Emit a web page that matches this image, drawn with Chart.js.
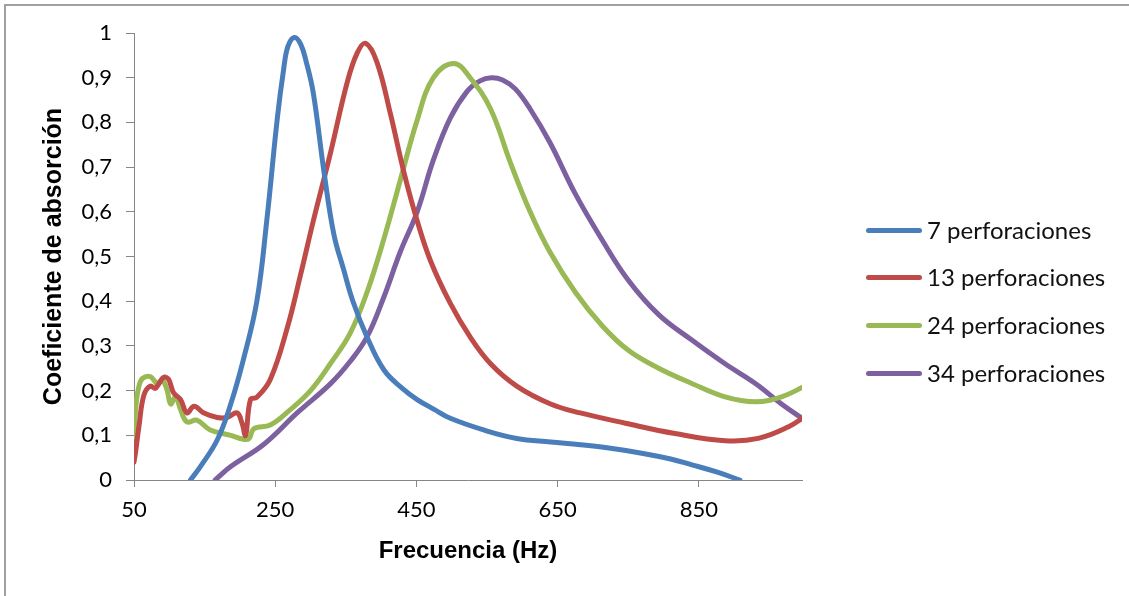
<!DOCTYPE html>
<html>
<head>
<meta charset="utf-8">
<script src="https://cdn.jsdelivr.net/npm/chart.js@4.4.1/dist/chart.umd.min.js"></script>
<style>
  html, body { margin: 0; padding: 0; background: #fff; }
  #wrap { position: relative; width: 1129px; height: 596px; overflow: hidden; }
  #frame { position: absolute; left: 4px; top: 4px; width: 1200px; height: 700px;
    border-left: 2px solid #a0a0a0; border-top: 2px solid #a0a0a0; }
  #cnv { position: absolute; left: 0; top: 0; }
  #legend { position: absolute; left: 866px; top: 0; font-family: Lato, sans-serif; font-size: 24px; color: #111; }
  #legend .item { position: absolute; left: 0; white-space: nowrap; height: 30px; line-height: 30px; }
  #legend .swatch { position: absolute; left: 0; top: 13px; width: 56px; height: 5px; border-radius: 3px; }
  #legend .lbl { position: absolute; left: 61px; top: 0; }
</style>
</head>
<body>
<div id="wrap">
  <div id="frame"></div>
  <canvas id="cnv"></canvas>
  <div id="legend"></div>
</div>
<script>
const seriesNames = ['7 perforaciones', '13 perforaciones', '24 perforaciones', '34 perforaciones']
const seriesColors = ['#4a7ebb', '#be4b48', '#98b954', '#7d60a0']

// frequency (Hz) / absorption pairs
const freq7 = [130, 144, 168, 187, 205, 224, 238, 253, 262, 268, 277, 286, 294, 304, 319, 333, 347, 360, 380, 404, 430, 451, 475, 498, 545, 592, 640, 682, 720, 769, 810, 840, 875, 908]
const alpha7 = [0, 0.03, 0.09, 0.17, 0.27, 0.40, 0.58, 0.81, 0.92, 0.97, 0.99, 0.975, 0.935, 0.865, 0.69, 0.55, 0.47, 0.40, 0.32, 0.246, 0.205, 0.18, 0.158, 0.138, 0.112, 0.093, 0.085, 0.079, 0.072, 0.06, 0.047, 0.034, 0.018, 0]

const freq13 = [50, 52, 57, 64, 73, 80, 85, 92, 99, 106, 116, 125, 135, 149, 168, 182, 196, 203, 208, 215, 224, 243, 267, 286, 304, 328, 352, 366, 378, 394, 413, 432, 451, 470, 498, 526, 555, 592, 640, 682, 746, 816, 887, 934, 977, 1000]
const alpha13 = [0.04, 0.06, 0.12, 0.19, 0.21, 0.205, 0.215, 0.23, 0.225, 0.195, 0.18, 0.15, 0.165, 0.15, 0.14, 0.14, 0.15, 0.127, 0.10, 0.18, 0.185, 0.225, 0.34, 0.46, 0.58, 0.73, 0.89, 0.955, 0.977, 0.935, 0.82, 0.69, 0.58, 0.49, 0.395, 0.32, 0.26, 0.21, 0.17, 0.15, 0.127, 0.104, 0.088, 0.093, 0.119, 0.142]

const freq24 = [50, 53, 57, 62, 73, 83, 90, 97, 102, 109, 116, 125, 139, 158, 187, 205, 213, 220, 243, 271, 300, 328, 356, 380, 404, 427, 451, 474, 503, 526, 555, 583, 611, 639, 675, 713, 750, 793, 840, 887, 930, 967, 1000]
const alpha24 = [0.097, 0.17, 0.21, 0.227, 0.231, 0.216, 0.224, 0.20, 0.17, 0.186, 0.157, 0.13, 0.134, 0.112, 0.10, 0.091, 0.093, 0.115, 0.123, 0.157, 0.20, 0.26, 0.328, 0.42, 0.54, 0.67, 0.805, 0.90, 0.932, 0.90, 0.83, 0.71, 0.60, 0.51, 0.42, 0.345, 0.29, 0.25, 0.216, 0.186, 0.175, 0.186, 0.21]

const freq34 = [165, 187, 234, 281, 328, 356, 380, 404, 427, 451, 474, 498, 522, 540, 556, 572, 590, 611, 639, 675, 713, 750, 793, 840, 887, 930, 967, 996]
const alpha34 = [0, 0.03, 0.08, 0.15, 0.215, 0.265, 0.32, 0.41, 0.51, 0.60, 0.716, 0.81, 0.87, 0.893, 0.90, 0.895, 0.875, 0.83, 0.755, 0.64, 0.537, 0.447, 0.37, 0.313, 0.26, 0.216, 0.17, 0.138]

const xTicks = [50, 250, 450, 650, 850]
const yTicks = [0, 0.1, 0.2, 0.3, 0.4, 0.5, 0.6, 0.7, 0.8, 0.9, 1]

const freqs = [freq7, freq13, freq24, freq34]
const alphas = [alpha7, alpha13, alpha24, alpha34]

const axisColor = '#868686'
const tickFont = { family: 'Lato', size: 22 }

const datasets = seriesNames.map((name, i) => ({
  label: name,
  data: freqs[i].map((f, k) => ({ x: f, y: alphas[i][k] })),
  borderColor: seriesColors[i],
  backgroundColor: seriesColors[i],
  borderWidth: 5,
  pointRadius: 0,
  tension: 0.4,
  borderCapStyle: 'round',
  borderJoinStyle: 'round'
}))

const canvas = document.getElementById('cnv')
canvas.width = 1129
canvas.height = 596
canvas.style.width = '1129px'
canvas.style.height = '596px'

new Chart(canvas, {
  type: 'line',
  data: { datasets },
  options: {
    responsive: false,
    animation: false,
    devicePixelRatio: 1,
    layout: { padding: { left: 0, top: 33, right: 327, bottom: 0 } },
    plugins: { legend: { display: false }, tooltip: { enabled: false } },
    scales: {
      x: {
        type: 'linear',
        min: 50,
        max: 996,
        afterBuildTicks: (s) => { s.ticks = xTicks.map(v => ({ value: v })) },
        afterFit: (s) => { s.height = 116 },
        border: { display: true, color: axisColor, width: 1 },
        grid: { drawOnChartArea: false, drawTicks: true, tickLength: 7, color: axisColor },
        ticks: { color: '#000', font: tickFont, padding: 10, maxRotation: 0, autoSkip: false },
        title: {
          display: true,
          text: 'Frecuencia (Hz)',
          color: '#000',
          font: { family: 'Liberation Sans', size: 24, weight: 'bold' },
          padding: { top: 0, bottom: 30 }
        }
      },
      y: {
        min: 0,
        max: 1,
        afterBuildTicks: (s) => { s.ticks = yTicks.map(v => ({ value: v })) },
        afterFit: (s) => { s.width = 134 },
        border: { display: true, color: axisColor, width: 1 },
        grid: { drawOnChartArea: false, drawTicks: true, tickLength: 8, color: axisColor },
        ticks: {
          color: '#000',
          font: tickFont,
          padding: 14,
          callback: (v) => (v === 0 || v === 1) ? String(v) : v.toFixed(1).replace('.', ',')
        },
        title: {
          display: true,
          text: 'Coeficiente de absorción',
          color: '#000',
          font: { family: 'Liberation Sans', size: 25, weight: 'bold' },
          padding: { top: 39, bottom: 0 }
        }
      }
    }
  }
})

// legend as real text, built from the series names/colors
const legend = document.getElementById('legend')
const legendRows = [230, 277, 325, 373]
seriesNames.forEach((name, i) => {
  const item = document.createElement('div')
  item.className = 'item'
  item.style.top = (legendRows[i] - 15) + 'px'
  item.innerHTML = `<span class="swatch" style="background:${seriesColors[i]}"></span><span class="lbl">${name}</span>`
  legend.appendChild(item)
})
</script>
</body>
</html>
